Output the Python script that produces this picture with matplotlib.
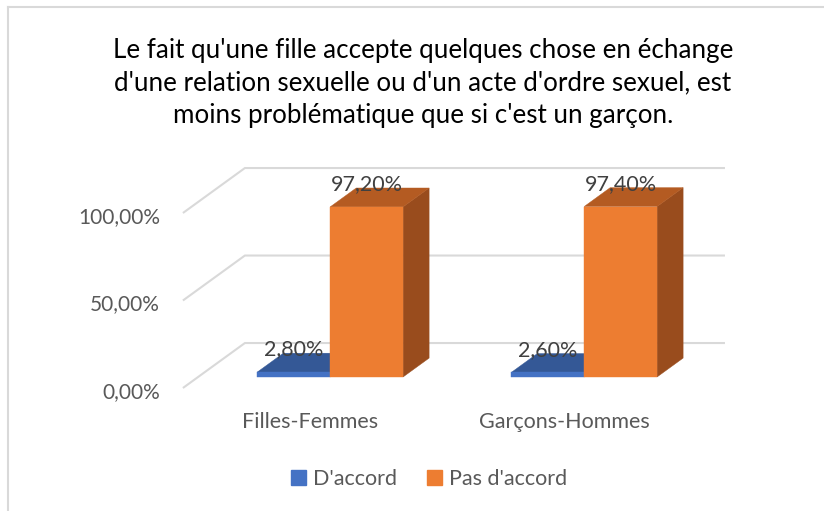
import matplotlib.pyplot as plt
from matplotlib.patches import Polygon
from matplotlib.lines import Line2D

categories = ["Filles-Femmes", "Garçons-Hommes"]
series_names = ["D'accord", "Pas d'accord"]
d_accord = [2.8, 2.6]
pas_d_accord = [97.2, 97.4]
y_ticks = [0, 50, 100]
y_tick_labels = ["0,00%", "50,00%", "100,00%"]
title = ("Le fait qu'une fille accepte quelques chose en échange\n"
         "d'une relation sexuelle ou d'un acte d'ordre sexuel, est\n"
         "moins problématique que si c'est un garçon.")

# colours: front, top, side
blue = ("#4472C4", "#345896", "#2A4A80")
orange = ("#ED7D31", "#B45B22", "#994C1D")

plt.rcParams["font.family"] = ["Lato", "DejaVu Sans"]

# oblique projection: depth z (0 front .. 1 back) shifts x and y
DX, DY = 0.244, 25.7
BAR_W = 0.287
Z0, Z1 = 0.245, 0.665


def proj(x, y, z):
    return (x + z * DX, y + z * DY)


def bar3d(ax, x0, h, cols):
    x1 = x0 + BAR_W
    front = [proj(x0, 0, Z0), proj(x1, 0, Z0), proj(x1, h, Z0), proj(x0, h, Z0)]
    top = [proj(x0, h, Z0), proj(x1, h, Z0), proj(x1, h, Z1), proj(x0, h, Z1)]
    side = [proj(x1, 0, Z0), proj(x1, 0, Z1), proj(x1, h, Z1), proj(x1, h, Z0)]
    for pts, c in ((side, cols[2]), (top, cols[1]), (front, cols[0])):
        ax.add_patch(Polygon(pts, closed=True, facecolor=c, edgecolor=c, lw=0.3))


fig = plt.figure(figsize=(8.24, 5.11), dpi=100)
ax = fig.add_axes([0, 0, 1, 1])
ax.set_xlim(-315 / 254, (824 - 315) / 254)
ax.set_ylim(-123 / 1.75, 388 / 1.75)
ax.axis("off")

# chart border (only top / left visible)
fig.add_artist(Line2D([8 / 824, 8 / 824], [0, 1 - 7 / 511], color="#D9D9D9", lw=1.5))
fig.add_artist(Line2D([8 / 824, 1], [1 - 7 / 511, 1 - 7 / 511], color="#D9D9D9", lw=1.5))

x_left, x_right = -0.52, 1.37
grid_c = "#D9D9D9"
for t, lab in zip(y_ticks, y_tick_labels):
    a = proj(x_left, t, 0)
    b = proj(x_left, t, 1)
    c = proj(x_right, t, 1)
    ax.plot([a[0], b[0], c[0]], [a[1], b[1], c[1]], color=grid_c, lw=1.5,
            solid_capstyle="butt", zorder=1)
    ax.text(a[0] - 0.09, a[1] - 2.3, lab, ha="right", va="center", fontsize=15,
            color="#595959")

for i, cat in enumerate(categories):
    bar3d(ax, i - BAR_W, d_accord[i], blue)
    bar3d(ax, i, pas_d_accord[i], orange)
    for x0, v in ((i - BAR_W, d_accord[i]), (i, pas_d_accord[i])):
        lx, ly = proj(x0 + BAR_W / 2, v, Z1)
        ax.text(x0 + BAR_W / 2 + Z0 * DX, ly - 3.5, f"{v:.2f}%".replace(".", ","),
                ha="center", va="bottom", fontsize=15.5, color="#404040")
    ax.text(i - 0.02, -19.5, cat, ha="center", va="center", fontsize=15.5,
            color="#595959")

fig.text(423 / 824, 1 - 83 / 511, title, ha="center", va="center", fontsize=18.7,
         color="#000000", linespacing=1.36)

# legend
handles = [plt.Rectangle((0, 0), 1, 1, color=blue[0]),
           plt.Rectangle((0, 0), 1, 1, color=orange[0])]
fig.legend(handles, series_names, loc="center", bbox_to_anchor=(429 / 824, 1 - 479 / 511),
           ncol=2, frameon=False, fontsize=15.5, handlelength=0.7, handleheight=0.7,
           handletextpad=0.3, columnspacing=1.4, labelcolor="#595959")

fig.savefig("out.png", dpi=100)
